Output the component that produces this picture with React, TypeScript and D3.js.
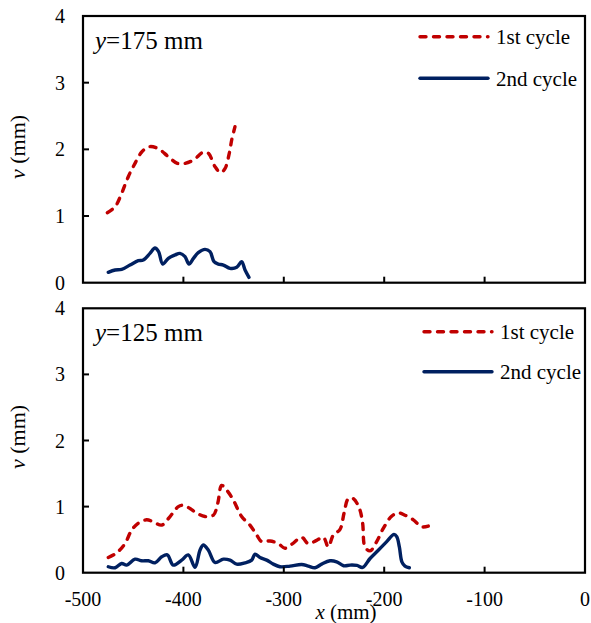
import React from "react";
import * as d3 from "d3";

// ---- data ----
const top1X = [-475.8, -468, -461.5, -454.9, -448.2, -441.5, -434, -425, -415, -406, -398.4, -390, -380, -375, -368.5, -362.9, -358.6, -354.3, -351.9, -348.6];
const top1V = [1.05, 1.14, 1.34, 1.59, 1.79, 1.96, 2.04, 2.01, 1.89, 1.79, 1.79, 1.84, 1.96, 1.94, 1.74, 1.65, 1.71, 1.94, 2.14, 2.34];

const top2X = [-474.8, -468, -461.5, -453.2, -444.9, -440, -433.3, -428.3, -424.7, -420.6, -415, -408.4, -403.4, -398.4, -394.4, -390, -385.2, -378.5, -373.5, -369.5, -365.2, -360.2, -353.6, -346.9, -342, -338.6, -334.7];
const top2V = [0.156, 0.19, 0.2, 0.265, 0.33, 0.34, 0.44, 0.52, 0.465, 0.28, 0.365, 0.415, 0.44, 0.39, 0.28, 0.365, 0.45, 0.5, 0.465, 0.315, 0.28, 0.265, 0.215, 0.23, 0.315, 0.19, 0.08];

const bot1X = [-474.8, -466.4, -458.2, -451.5, -444.9, -436.6, -430, -421.6, -413.3, -405, -400, -393.4, -386.7, -378.5, -370.2, -365.8, -361.9, -356.9, -350.3, -342, -333.7, -327, -322, -313.7, -305.5, -298.8, -292.1, -282.2, -275.6, -267.3, -260.6, -255.7, -250.7, -244, -240, -235.7, -230.7, -224.7, -221.5, -219.1, -214.1, -207.5, -200.9, -192.6, -186, -179.3, -171, -162.7, -156.1];
const bot1V = [0.23, 0.3, 0.44, 0.645, 0.75, 0.8, 0.77, 0.72, 0.85, 1.0, 1.02, 0.97, 0.9, 0.85, 0.87, 1.05, 1.32, 1.25, 1.1, 0.85, 0.72, 0.57, 0.47, 0.48, 0.44, 0.37, 0.43, 0.535, 0.44, 0.49, 0.535, 0.39, 0.57, 0.655, 0.9, 1.12, 1.12, 0.97, 0.75, 0.39, 0.33, 0.47, 0.67, 0.855, 0.905, 0.87, 0.8, 0.695, 0.705];

const bot2X = [-474.8, -468, -461.5, -456.5, -448.2, -441.5, -434.9, -428.3, -421.6, -416, -410.1, -401.7, -395.1, -388.4, -383.5, -380.2, -375.1, -368.5, -360.2, -353.6, -346.9, -338.6, -332, -328.7, -323.7, -317, -310.4, -303.8, -293.8, -282.2, -275.6, -268.9, -262.3, -254, -247.4, -240.4, -234, -227.1, -221.5, -214.1, -205.9, -197.5, -190.2, -187.5, -184.9, -182.4, -179.3, -175];
const bot2V = [0.09, 0.075, 0.14, 0.115, 0.205, 0.18, 0.18, 0.15, 0.24, 0.27, 0.115, 0.19, 0.27, 0.08, 0.34, 0.42, 0.34, 0.155, 0.205, 0.19, 0.13, 0.15, 0.19, 0.28, 0.23, 0.19, 0.13, 0.09, 0.1, 0.125, 0.1, 0.075, 0.13, 0.18, 0.165, 0.105, 0.115, 0.11, 0.08, 0.215, 0.34, 0.47, 0.58, 0.545, 0.39, 0.165, 0.1, 0.075];

const xTicks = [-500, -400, -300, -200, -100, 0];
const yTicks = [0, 1, 2, 3, 4];
const seriesNames = ["1st cycle", "2nd cycle"];
const panelLabels = ["175", "125"];

const RED = "#C00000";
const BLUE = "#002060";
const FONT = "Liberation Serif";
const DASH = "6 7.5";

const W = 591;
const H = 623;
const left = 83;
const right = 585;

const x = d3.scaleLinear().domain([-500, 0]).range([left, right]);

const panels = [
  { top: 16, bottom: 282.7, s1: [top1X, top1V], s2: [top2X, top2V], label: panelLabels[0], legX: 420, leg1Y: 36.7, leg2Y: 78.3, ylabY: 147 },
  { top: 308.3, bottom: 572.7, s1: [bot1X, bot1V], s2: [bot2X, bot2V], label: panelLabels[1], legX: 424, leg1Y: 331.7, leg2Y: 371.7, ylabY: 437 },
];

function Panel({ p, showX }: { p: any; showX: boolean }) {
  const y = d3.scaleLinear().domain([0, 4]).range([p.bottom, p.top]);
  const line = d3
    .line<[number, number]>()
    .x((d) => x(d[0]))
    .y((d) => y(d[1]))
    .curve(d3.curveCatmullRom.alpha(0.5));
  const pts = (s: number[][]) => s[0].map((v, i) => [v, s[1][i]] as [number, number]);
  return (
    <g>
      <path d={line(pts(p.s1)) || ""} fill="none" stroke={RED} strokeWidth={3.4} strokeDasharray={DASH} strokeLinecap="round" />
      <path d={line(pts(p.s2)) || ""} fill="none" stroke={BLUE} strokeWidth={3.4} strokeLinejoin="round" strokeLinecap="round" />
      <rect x={left} y={p.top} width={right - left} height={p.bottom - p.top} fill="none" stroke="#000" strokeWidth={2.2} />
      {xTicks.slice(1, -1).map((t) => (
        <line key={"xt" + t} x1={x(t)} x2={x(t)} y1={p.bottom} y2={p.bottom - 6} stroke="#000" strokeWidth={2} />
      ))}
      {yTicks.slice(1, -1).map((t) => (
        <line key={"yt" + t} x1={left} x2={left + 6} y1={y(t)} y2={y(t)} stroke="#000" strokeWidth={2} />
      ))}
      {yTicks.map((t) => (
        <text key={"yl" + t} x={65} y={y(t)} dy="0.35em" textAnchor="end" fontSize={20} fontFamily={FONT}>
          {t}
        </text>
      ))}
      {showX &&
        xTicks.map((t) => (
          <text key={"xl" + t} x={x(t)} y={606} textAnchor="middle" fontSize={20} fontFamily={FONT}>
            {t}
          </text>
        ))}
      <text x={95} y={p.top + 32.5} fontSize={25} fontFamily={FONT}>
        <tspan fontStyle="italic">y</tspan>={p.label} mm
      </text>
      <text transform={`translate(25,${p.ylabY}) rotate(-90)`} textAnchor="middle" fontSize={22} fontFamily={FONT}>
        <tspan fontStyle="italic">v</tspan> (mm)
      </text>
      <line x1={p.legX} x2={p.legX + 68} y1={p.leg1Y} y2={p.leg1Y} stroke={RED} strokeWidth={3.4} strokeDasharray={DASH} strokeLinecap="round" />
      <text x={p.legX + 76} y={p.leg1Y + 7.5} fontSize={21} fontFamily={FONT}>
        {seriesNames[0]}
      </text>
      <line x1={p.legX} x2={p.legX + 68} y1={p.leg2Y} y2={p.leg2Y} stroke={BLUE} strokeWidth={3.4} strokeLinecap="round" />
      <text x={p.legX + 76} y={p.leg2Y + 7.5} fontSize={21} fontFamily={FONT}>
        {seriesNames[1]}
      </text>
    </g>
  );
}

export default function App() {
  return (
    <svg width={W} height={H} style={{ position: "absolute", left: 0, top: 0, background: "#fff" }}>
      <Panel p={panels[0]} showX={false} />
      <Panel p={panels[1]} showX={true} />
      <text x={346} y={619} textAnchor="middle" fontSize={21} fontFamily={FONT}>
        <tspan fontStyle="italic">x</tspan> (mm)
      </text>
    </svg>
  );
}
